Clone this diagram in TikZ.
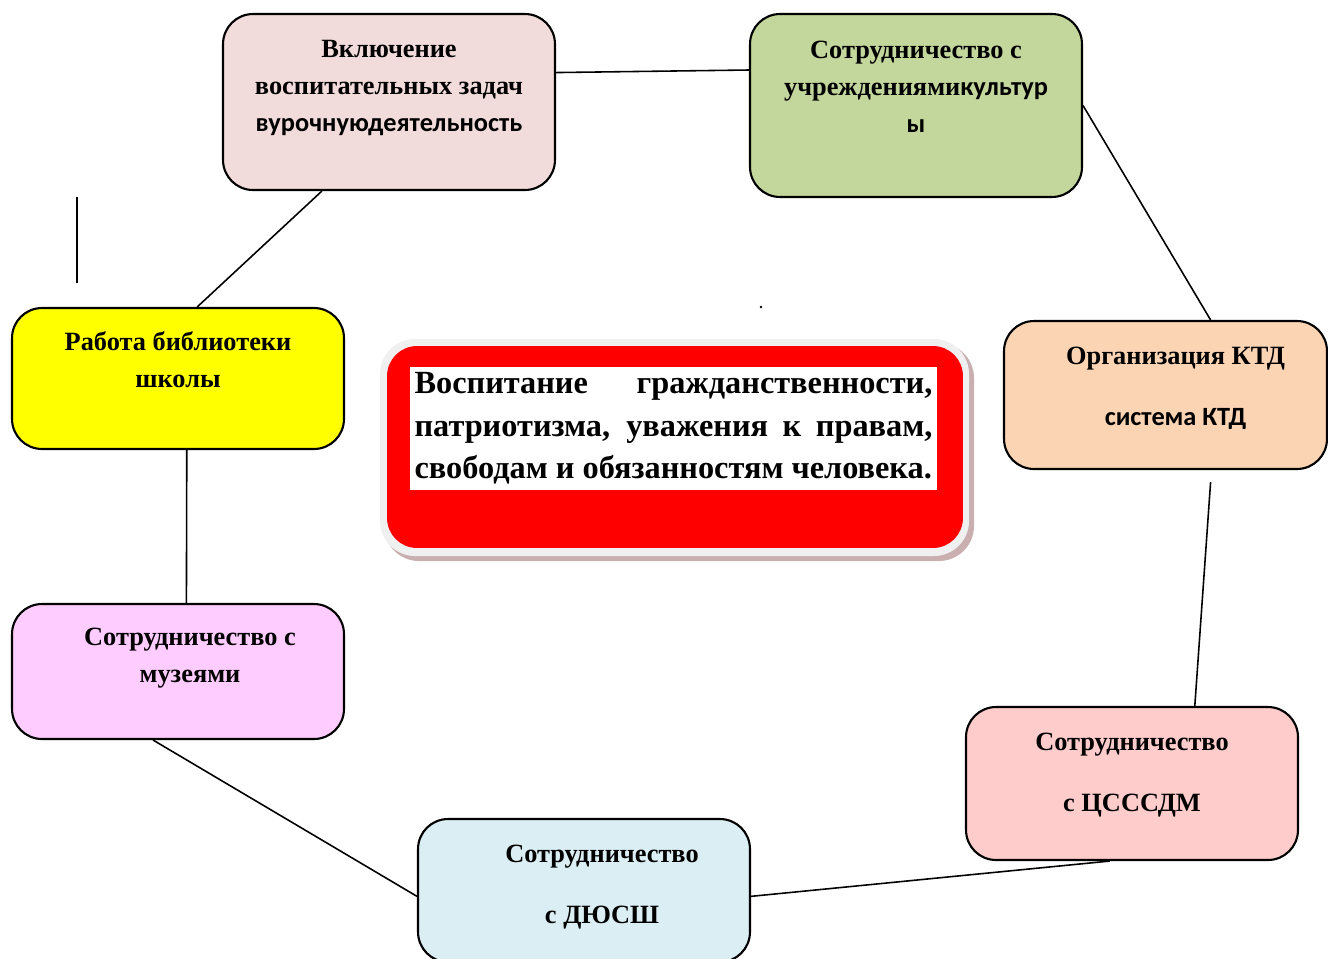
\documentclass[tikz,border=0pt]{standalone}
\usepackage{fontspec}
\setmainfont{Liberation Serif}
\newfontfamily\calib{Carlito}
\usetikzlibrary{positioning,calc}
\definecolor{rozA}{HTML}{F2DCDB}
\definecolor{zelB}{HTML}{C3D69B}
\definecolor{oranC}{HTML}{FBD4B4}
\definecolor{rozD}{HTML}{FFCCCC}
\definecolor{golE}{HTML}{DBEEF3}
\definecolor{siren}{HTML}{FFCCFF}
\definecolor{zhelt}{HTML}{FFFF00}
\definecolor{ten}{HTML}{C9AFAF}

\begin{document}
\begin{tikzpicture}[x=0.02cm,y=-0.02cm,
	blok/.style={draw,line width=1.2pt,rounded corners=0.6cm,minimum width=6.64cm,inner sep=0pt},
	nadpis/.style={anchor=north,align=center,inner sep=0pt,font=\fontsize{15}{21}\selectfont\bfseries},
	svyaz/.style={line width=0.9pt}]
	\clip (0,0) rectangle (1328,958);
	% bloki
	\node[blok,fill=rozA,minimum height=3.52cm] (vkl) at (389,102) {};
	\node[blok,fill=zelB,minimum height=3.66cm] (kult) at (916,105.5) {};
	\node[blok,fill=oranC,minimum width=6.46cm,minimum height=2.96cm] (ktd) at (1165.5,395) {};
	\node[blok,fill=rozD,minimum height=3.06cm] (csss) at (1132,783.5) {};
	\node[blok,fill=golE,minimum height=2.86cm] (dyus) at (584,890.5) {};
	\node[blok,fill=siren,minimum height=2.7cm] (muz) at (178,671.5) {};
	\node[blok,fill=zhelt,minimum height=2.82cm] (bibl) at (178,378.5) {};
	% nadpisi
	\node[nadpis] (vklT) at ([yshift=-0.54cm]vkl.north) {Включение\\воспитательных задач\\{\calib вурочнуюдеятельность}};
	\node[nadpis] (kultT) at ([yshift=-0.55cm]kult.north) {Сотрудничество с\\учреждениями{\calib культур}\\{\calib ы}};
	\node[nadpis] (ktdT) at ([xshift=0.2cm,yshift=-0.53cm]ktd.north) {Организация КТД\\[14pt]{\calib система КТД}};
	\node[nadpis] (csssT) at ([yshift=-0.53cm]csss.north) {Сотрудничество\\[14pt]с ЦСССДМ};
	\node[nadpis] (dyusT) at ([xshift=0.36cm,yshift=-0.53cm]dyus.north) {Сотрудничество\\[14pt]с ДЮСШ};
	\node[nadpis] (muzT) at ([xshift=0.24cm,yshift=-0.5cm]muz.north) {Сотрудничество с\\музеями};
	\node[nadpis] (biblT) at ([yshift=-0.49cm]bibl.north) {Работа библиотеки\\школы};
	% centr
	\fill[ten,rounded corners=0.7cm] (384,343) rectangle (974,561);
	\fill[gray!12,rounded corners=0.7cm] (380,339) rectangle (969,556);
	\node[fill=red,rounded corners=0.6cm,minimum width=11.52cm,minimum height=4.04cm,inner sep=0pt] (vosp) at (675,447) {};
	\node[fill=white,text width=10.36cm,inner xsep=0.09cm,inner ysep=0.1cm,align=justify,
		font=\fontsize{18.4}{24.3}\selectfont\bfseries] (vospT) at (673.5,428.5)
		{Воспитание гражданственности, патриотизма, уважения к правам, свободам и обязанностям человека.};
	% svyazi
	\draw[svyaz] (vkl.10) -- (kult.168);
	\draw[svyaz] (kult.east) -- (ktd.59.5);
	\draw[svyaz] ([yshift=-0.24cm]ktd.-59.5) -- (csss.51);
	\draw[svyaz] (csss.-106) -- (dyus.-2.4);
	\draw[svyaz] (dyus.182.4) -- (muz.-110);
	\draw[svyaz] (muz.83) -- (bibl.-83);
	\draw[svyaz] (bibl.75) -- (vkl.-127);
	\coordinate (shtrihA) at (77,197);
	\coordinate (shtrihB) at (77,283);
	\draw[svyaz] (shtrihA) -- (shtrihB);
	\fill (761,307) circle (0.8pt);
\end{tikzpicture}
\end{document}
